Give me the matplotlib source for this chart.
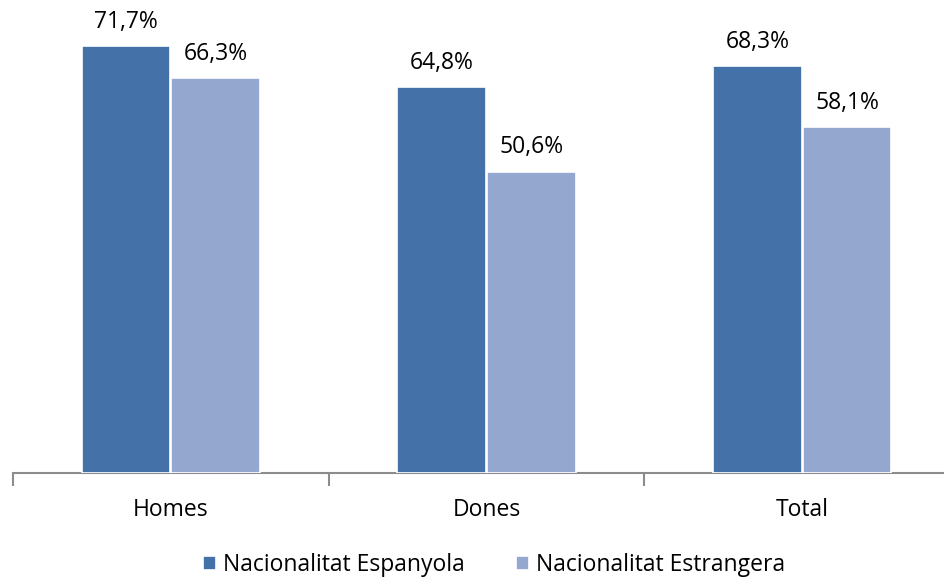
import matplotlib
matplotlib.use("Agg")
import matplotlib.pyplot as plt
import numpy as np

categories = ["Homes", "Dones", "Total"]
espanyola = [71.7, 64.8, 68.3]
estrangera = [66.3, 50.6, 58.1]
series_names = ["Nacionalitat Espanyola", "Nacionalitat Estrangera"]
colors = ["#4472A8", "#94A8CF"]

plt.rcParams['font.family'] = ['Open Sans', 'DejaVu Sans']

W, H = 944, 579
fig = plt.figure(figsize=(W/100, H/100), dpi=100)
x0, x1 = 13, 960
ybase = 473
ax = fig.add_axes([x0/W, 1 - ybase/H, (x1-x0)/W, ybase/H])

x = np.arange(len(categories))
bw = 0.28
off = 0.142
b1 = ax.bar(x - off, espanyola, bw, color=colors[0], edgecolor="white", linewidth=1.2, label=series_names[0], zorder=3)
b2 = ax.bar(x + off, estrangera, bw, color=colors[1], edgecolor="white", linewidth=1.2, label=series_names[1], zorder=3)

for bars, vals in ((b1, espanyola), (b2, estrangera)):
    for r, v in zip(bars, vals):
        ax.annotate(f"{v:.1f}%".replace(".", ","), (r.get_x() + r.get_width()/2, v),
                    xytext=(0, 9), textcoords="offset points", ha="center", va="bottom",
                    fontsize=16.5, color="black")

ax.set_xlim(-0.5, 2.5)
ax.set_ylim(0, ybase/5.955)
for s in ["top", "right", "left"]:
    ax.spines[s].set_visible(False)
ax.spines["bottom"].set_color("#8c8c8c")
ax.spines["bottom"].set_linewidth(1.5)
ax.set_yticks([])
ax.set_xticks(x)
ax.set_xticklabels(categories, fontsize=16.5)
ax.tick_params(axis="x", which="major", length=0, pad=18)
ax.set_xticks([-0.5, 0.5, 1.5, 2.5], minor=True)
ax.tick_params(axis="x", which="minor", length=9, width=1.5, color="#8c8c8c")

fig.legend(handles=[b1, b2], labels=series_names, loc="center", bbox_to_anchor=(494/W, 1 - 565/H),
           ncol=2, frameon=False, fontsize=16.5, handlelength=0.6, handleheight=0.6,
           handletextpad=0.3, columnspacing=2.2)

fig.savefig("out.png", dpi=100)
